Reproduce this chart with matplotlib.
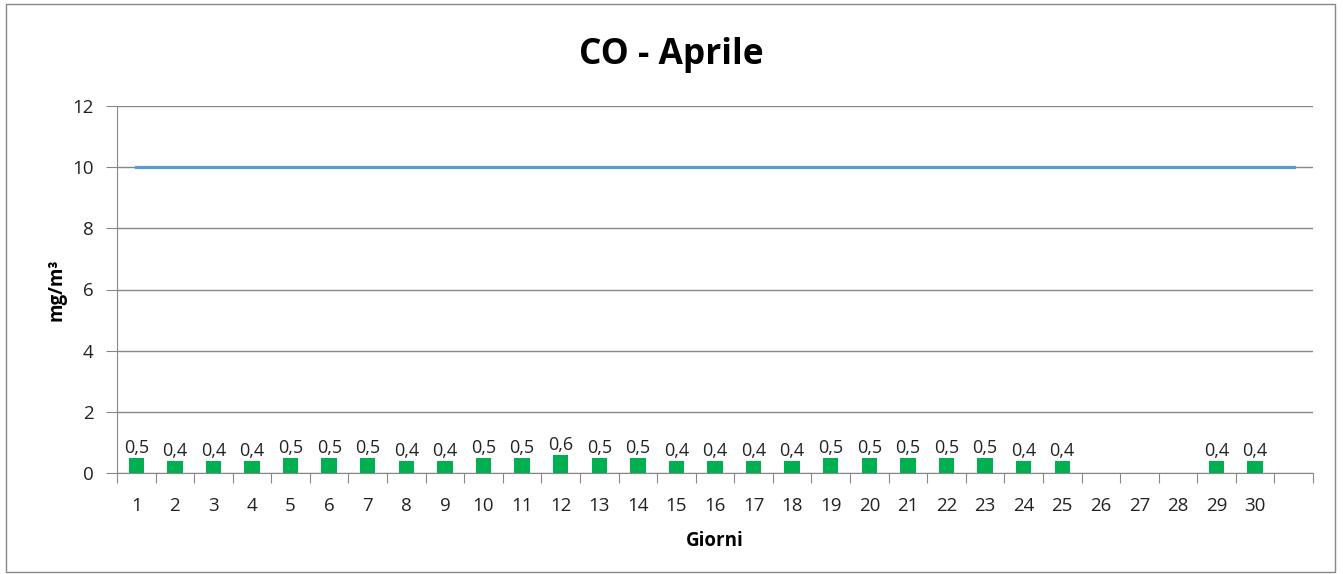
import numpy as np
import matplotlib.pyplot as plt
from matplotlib.patches import Rectangle

# Daily CO values (mg/m3), None = no data
giorni = list(range(1, 32))
labels = [str(g) for g in range(1, 31)] + ['']
valori = [0.5, 0.4, 0.4, 0.4, 0.5, 0.5, 0.5, 0.4, 0.4, 0.5,
          0.5, 0.6, 0.5, 0.5, 0.4, 0.4, 0.4, 0.4, 0.5, 0.5,
          0.5, 0.5, 0.5, 0.4, 0.4, None, None, None, 0.4, 0.4, None]
limite = [10] * 31

plt.rcParams['font.family'] = ['Open Sans', 'DejaVu Sans']

fig = plt.figure(figsize=(13.43, 5.74), dpi=100)
ax = fig.add_axes([117/1343, 101/574, 1196/1343, 367/574])

# outer frame
fig.patches.append(Rectangle((6/1343, 2/574), 1329/1343, 568/574, transform=fig.transFigure,
                             fill=False, edgecolor='#888888', linewidth=1))

x = np.array(giorni)
y = np.array([v if v is not None else np.nan for v in valori], dtype=float)
ax.bar(x, y, width=0.4, color='#00B050', zorder=3)
for xi, v in zip(x, valori):
    if v is not None:
        ax.text(xi, v + 0.01, f'{v:.1f}'.replace('.', ','), ha='center', va='bottom',
                fontsize=13, color='#222222', zorder=4)

ax.plot(x, limite, color='#5B9BD5', linewidth=2.3, zorder=2)

ax.set_xlim(0.5, 31.5)
ax.set_ylim(0, 12)
ax.set_yticks(range(0, 13, 2))
ax.yaxis.grid(True, color='#888888', linewidth=1)
ax.set_axisbelow(True)

ax.set_xticks(np.arange(0.5, 32, 1))
ax.set_xticklabels([])
ax.set_xticks(x, minor=True)
ax.set_xticklabels(labels, minor=True)
ax.tick_params(axis='x', which='major', length=7, color='#888888')
ax.tick_params(axis='x', which='minor', length=0, pad=17, labelsize=13.5, labelcolor='#222222')
ax.tick_params(axis='y', length=8, color='#888888', labelsize=13.5, labelcolor='#222222', pad=9)

for s in ['top', 'right']:
    ax.spines[s].set_visible(False)
for s in ['left', 'bottom']:
    ax.spines[s].set_color('#888888')

fig.text(0.5, 1 - 55/574, 'CO - Aprile', ha='center', va='center', fontsize=25.5, fontweight='bold')
ax.set_xlabel('Giorni', fontsize=13.5, fontweight='bold', labelpad=12)
ax.set_ylabel('mg/m³', fontsize=13.5, fontweight='bold', labelpad=4)

fig.savefig('out.png', dpi=100)
